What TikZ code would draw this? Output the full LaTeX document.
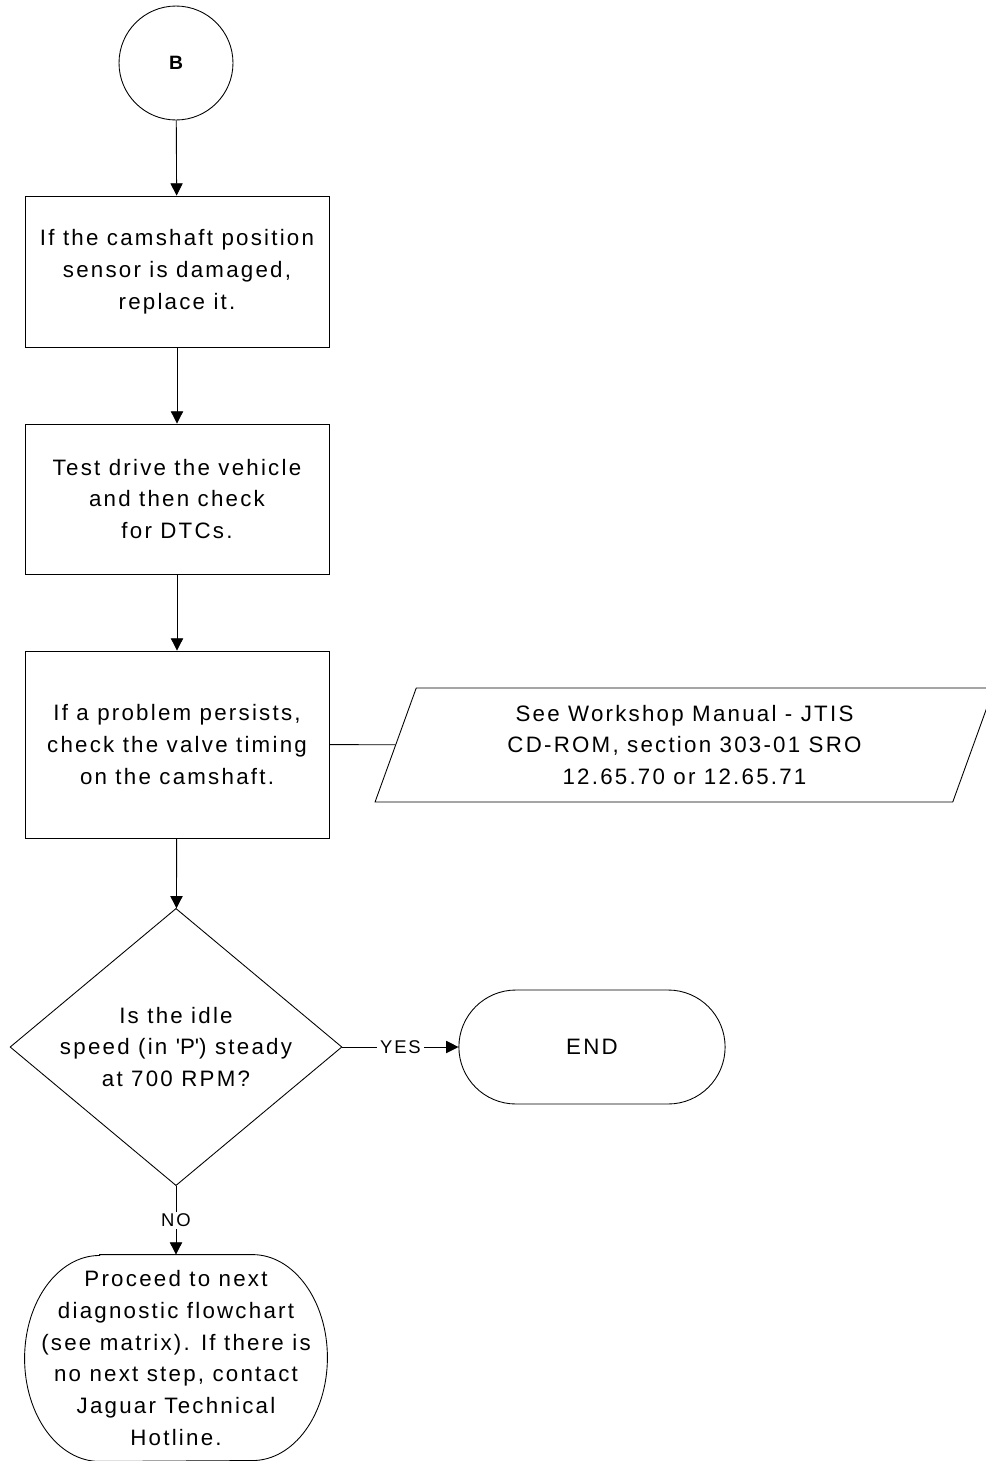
\documentclass[tikz,border=0pt]{standalone}
\usepackage{fontspec}
\setmainfont{Liberation Sans}[LetterSpace=10]
\usetikzlibrary{arrows.meta,shapes.geometric,shapes.misc}
\newcommand{\chartfont}{\fontsize{12.7}{18.2}\selectfont}
\newcommand{\lblfont}{\fontsize{10.5}{12}\selectfont}
\tikzset{>={Triangle[length=7pt,width=7pt]}}
\tikzset{
	stepbox/.style={draw, rectangle, minimum width=6.08cm, align=center, font=\chartfont},
	decision/.style={draw, diamond, minimum width=6.64cm, minimum height=5.32cm,
			inner xsep=-10pt, inner ysep=0pt, align=center, font=\chartfont},
	manualref/.style={draw, trapezium, trapezium stretches body, trapezium left angle=65.9,
			trapezium right angle=114.1, minimum width=12.38cm, minimum height=2.28cm,
			align=center, font=\chartfont},
	terminal/.style={draw, rounded rectangle, minimum width=5.56cm, minimum height=2.28cm,
			font=\chartfont},
	answer/.style={fill=white, inner xsep=2pt, inner ysep=1pt, font=\lblfont}
}

\begin{document}
\begin{tikzpicture}[x=0.02cm, y=-0.02cm, line width=0.5pt]
		\useasboundingbox (0,0) rectangle (985,1461);
		\node[draw, circle, minimum size=2.28cm, font=\fontsize{11}{13}\selectfont\bfseries] (B) at (176,63) {B};
		\node[stepbox, minimum height=3.02cm] (damaged) at (177,271.5) {If the camshaft position\\sensor is damaged,\\replace it.};
		\node[stepbox, minimum height=3.0cm] (drive) at (177,499) {Test drive the vehicle\\and then check\\for DTCs.};
		\node[stepbox, minimum height=3.74cm] (timing) at (177,744.5) {If a problem persists,\\check the valve timing\\on the camshaft.};
		\node[manualref] (manual) at (684.5,745) {See Workshop Manual - JTIS\\CD-ROM, section 303-01 SRO\\12.65.70 or 12.65.71};
		\node[decision] (idle) at (176,1047) {Is the idle\\speed (in \textquotesingle P\textquotesingle) steady\\at 700 RPM?};
		\node[terminal] (end) at (592,1047) {END};
		\node[minimum width=6.04cm, minimum height=4.12cm, align=center, font=\chartfont] (next) at (176,1358)
		{Proceed to next\\diagnostic flowchart\\(see matrix). If there is\\no next step, contact\\Jaguar Technical\\Hotline.};
		% outline of the last terminal
		\draw ([xshift=1.5cm]next.north west) -- ([xshift=-1.5cm]next.north east)
		arc[start angle=90, end angle=-90, x radius=1.5cm, y radius=2.06cm]
		-- ([xshift=1.5cm]next.south west)
		arc[start angle=270, end angle=90, x radius=1.5cm, y radius=2.06cm] -- cycle;

		\draw[->] (B) -- (damaged);
		\draw[->] (damaged) -- (drive);
		\draw[->] (drive) -- (timing);
		\draw (timing) -- (manual);
		\draw[->] (timing) -- (idle);
		\draw[->] (idle) -- node[answer] {YES} (end);
		\draw[->] (idle) -- node[answer] {NO} (next);
	\end{tikzpicture}
\end{document}
